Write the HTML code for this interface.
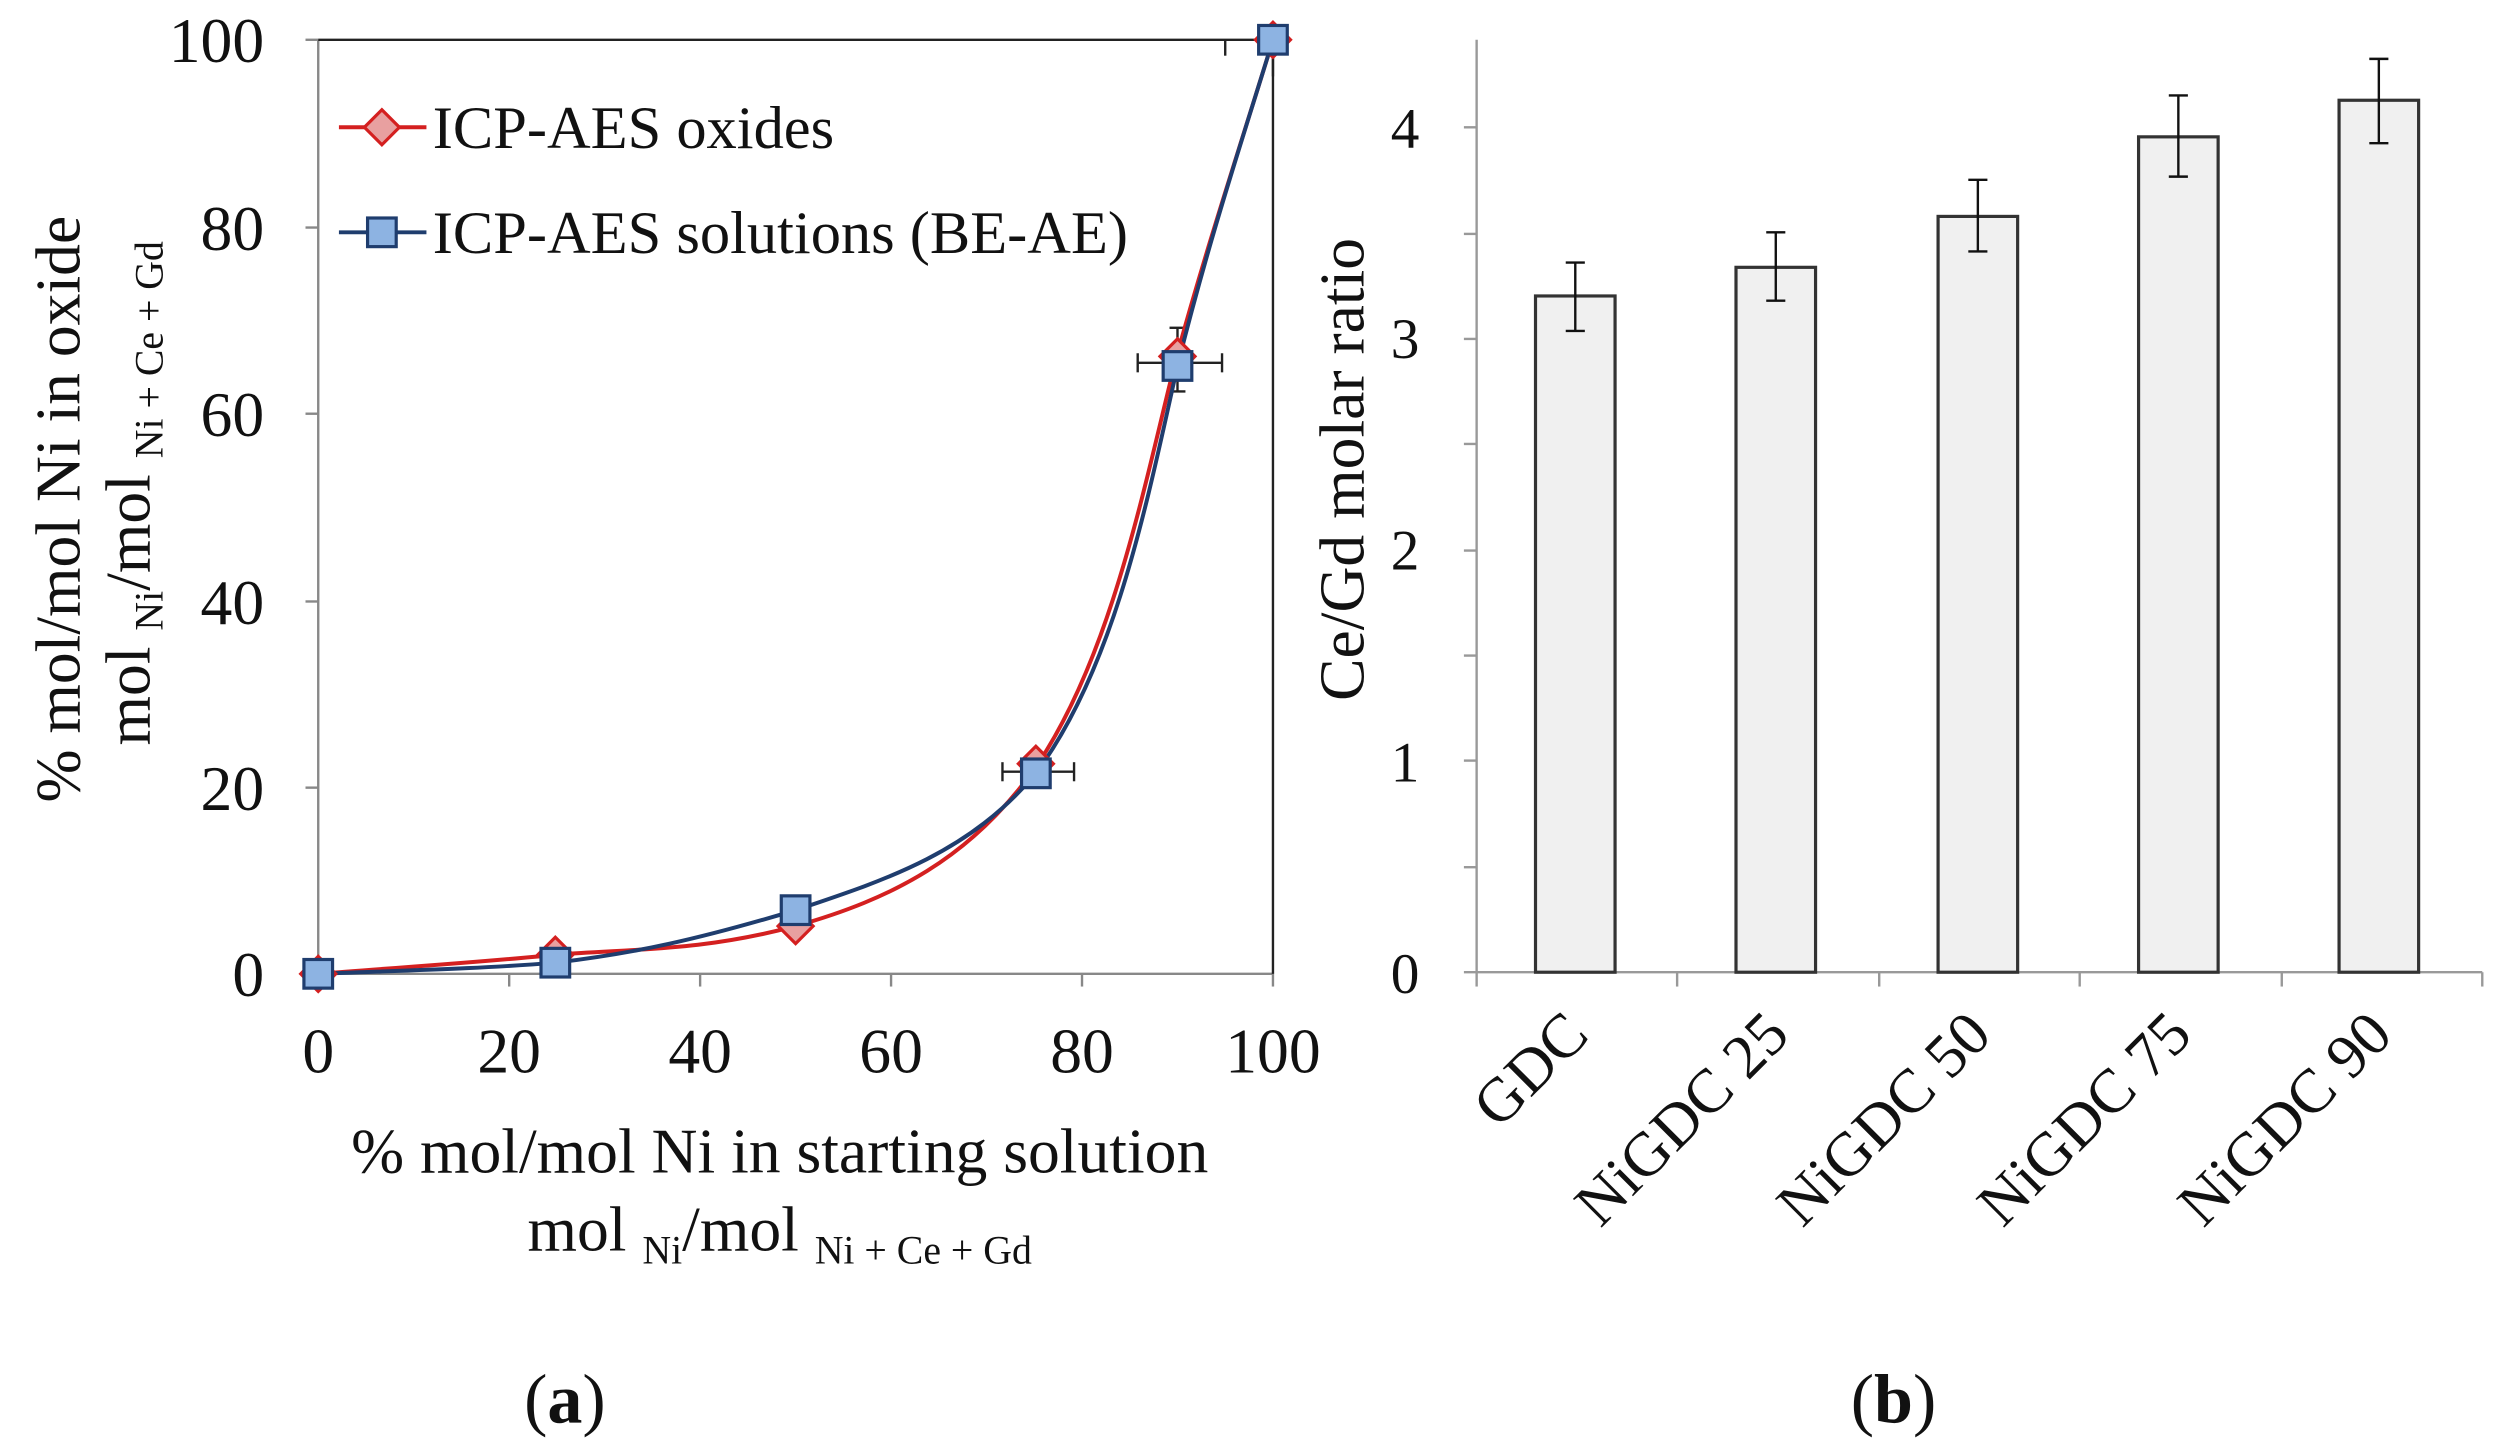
<!DOCTYPE html>
<html><head><meta charset="utf-8"><style>html,body{margin:0;padding:0;background:#fff}svg{display:block}</style></head>
<body>
<svg width="2495" height="1448" viewBox="0 0 1568 910" xmlns="http://www.w3.org/2000/svg" font-family="Liberation Serif, serif">
<rect width="1568" height="910" fill="#fff"/>
<!-- Left chart -->
<g stroke="#888" stroke-width="1.5" fill="none">
<line x1="200" y1="25" x2="200" y2="612"/>
<line x1="200" y1="612" x2="800" y2="612"/>
<line x1="192" y1="25" x2="200" y2="25"/><line x1="192" y1="143" x2="200" y2="143"/><line x1="192" y1="260" x2="200" y2="260"/><line x1="192" y1="378" x2="200" y2="378"/><line x1="192" y1="495" x2="200" y2="495"/><line x1="192" y1="612" x2="200" y2="612"/>
<line x1="320" y1="612" x2="320" y2="620"/><line x1="440" y1="612" x2="440" y2="620"/><line x1="560" y1="612" x2="560" y2="620"/><line x1="680" y1="612" x2="680" y2="620"/><line x1="800" y1="612" x2="800" y2="620"/>
</g>
<line x1="200" y1="25" x2="800" y2="25" stroke="#222" stroke-width="1.5"/>
<line x1="800" y1="25" x2="800" y2="612" stroke="#222" stroke-width="1.5"/>
<g font-size="40" fill="#111" text-anchor="end">
<text x="166" y="39">100</text><text x="166" y="157">80</text><text x="166" y="274">60</text><text x="166" y="392">40</text><text x="166" y="509">20</text><text x="166" y="626">0</text>
</g>
<g font-size="40" fill="#111" text-anchor="middle">
<text x="200" y="674">0</text><text x="320" y="674">20</text><text x="440" y="674">40</text><text x="560" y="674">60</text><text x="680" y="674">80</text><text x="800" y="674">100</text>
</g>
<text x="490" y="737" font-size="40" text-anchor="middle" fill="#111">% mol/mol Ni in starting solution</text>
<text x="490" y="786" font-size="40" text-anchor="middle" fill="#111">mol <tspan font-size="25" dy="8">Ni</tspan><tspan dy="-8">/mol </tspan><tspan font-size="25" dy="8">Ni + Ce + Gd</tspan></text>
<text transform="translate(50,320) rotate(-90)" font-size="40" text-anchor="middle" fill="#111">% mol/mol Ni in oxide</text>
<text transform="translate(94,310) rotate(-90)" font-size="40" text-anchor="middle" fill="#111">mol <tspan font-size="25" dy="8">Ni</tspan><tspan dy="-8">/mol </tspan><tspan font-size="25" dy="8">Ni + Ce + Gd</tspan></text>
<!-- error bars -->
<g stroke="#222" stroke-width="1.5">
<line x1="715" y1="228" x2="768" y2="228"/><line x1="715" y1="222" x2="715" y2="234"/><line x1="768" y1="222" x2="768" y2="234"/>
<line x1="740" y1="206" x2="740" y2="246"/><line x1="735" y1="206" x2="745" y2="206"/><line x1="735" y1="246" x2="745" y2="246"/>
<line x1="630" y1="485" x2="675" y2="485"/><line x1="630" y1="479" x2="630" y2="491"/><line x1="675" y1="479" x2="675" y2="491"/>
<line x1="770" y1="25" x2="770" y2="35"/><line x1="800" y1="25" x2="800" y2="48"/>
</g>
<!-- curves -->
<path d="M200,612 C250,608 300,605 349,600 C400,596 440,598 500,582 C560,565 610,540 651,482 C700,410 720,300 740,222 C760,150 780,90 800,25" stroke="#d42020" stroke-width="2.5" fill="none"/>
<path d="M200,612 C250,610 300,609 349,605 C400,599 440,590 500,572 C560,552 610,535 651,486 C700,420 720,320 740,230 C760,150 780,90 800,25" stroke="#1f3d6e" stroke-width="2.5" fill="none"/>
<g fill="#e8a0a0" stroke="#d42020" stroke-width="2">
<path d="M200,601 l11,11 -11,11 -11,-11z"/><path d="M349,589 l11,11 -11,11 -11,-11z"/><path d="M500,571 l11,11 -11,11 -11,-11z"/><path d="M651,469 l11,11 -11,11 -11,-11z"/><path d="M740,213 l11,11 -11,11 -11,-11z"/><path d="M800,14 l11,11 -11,11 -11,-11z"/>
</g>
<g fill="#8db3e2" stroke="#1f3d6e" stroke-width="2">
<rect x="191" y="603" width="18" height="18"/><rect x="340" y="596" width="18" height="18"/><rect x="491" y="563" width="18" height="18"/><rect x="642" y="477" width="18" height="18"/><rect x="731" y="221" width="18" height="18"/><rect x="791" y="16" width="18" height="18"/>
</g>
<!-- legend -->
<line x1="213" y1="80" x2="268" y2="80" stroke="#d42020" stroke-width="2.5"/>
<path d="M240,69 l11,11 -11,11 -11,-11z" fill="#e8a0a0" stroke="#d42020" stroke-width="2"/>
<text x="272" y="93" font-size="38" fill="#111">ICP-AES oxides</text>
<line x1="213" y1="146" x2="268" y2="146" stroke="#1f3d6e" stroke-width="2.5"/>
<rect x="231" y="137" width="18" height="18" fill="#8db3e2" stroke="#1f3d6e" stroke-width="2"/>
<text x="272" y="159" font-size="38" fill="#111">ICP-AES solutions (BE-AE)</text>
<text x="355" y="894" font-size="44" text-anchor="middle" fill="#111">(<tspan font-weight="bold">a</tspan>)</text>
<!-- Right chart -->
<g stroke="#999" stroke-width="1.5">
<line x1="928" y1="25" x2="928" y2="611"/>
<line x1="920" y1="611" x2="1560" y2="611"/>
<line x1="920" y1="80" x2="928" y2="80"/><line x1="920" y1="147" x2="928" y2="147"/><line x1="920" y1="213" x2="928" y2="213"/><line x1="920" y1="279" x2="928" y2="279"/><line x1="920" y1="346" x2="928" y2="346"/><line x1="920" y1="412" x2="928" y2="412"/><line x1="920" y1="478" x2="928" y2="478"/><line x1="920" y1="545" x2="928" y2="545"/>
<line x1="928" y1="611" x2="928" y2="620"/><line x1="1054" y1="611" x2="1054" y2="620"/><line x1="1181" y1="611" x2="1181" y2="620"/><line x1="1307" y1="611" x2="1307" y2="620"/><line x1="1434" y1="611" x2="1434" y2="620"/><line x1="1560" y1="611" x2="1560" y2="620"/>
</g>
<g font-size="36" fill="#111" text-anchor="end">
<text x="892" y="93">4</text><text x="892" y="225">3</text><text x="892" y="358">2</text><text x="892" y="491">1</text><text x="892" y="624">0</text>
</g>
<text transform="translate(857,295) rotate(-90)" font-size="40" text-anchor="middle" fill="#111">Ce/Gd molar ratio</text>
<g fill="#f0f0f0" stroke="#333" stroke-width="2">
<rect x="965" y="186" width="50" height="425"/>
<rect x="1091" y="168" width="50" height="443"/>
<rect x="1218" y="136" width="50" height="475"/>
<rect x="1344" y="86" width="50" height="525"/>
<rect x="1470" y="63" width="50" height="548"/>
</g>
<g stroke="#111" stroke-width="1.5">
<line x1="990" y1="165" x2="990" y2="208"/><line x1="984" y1="165" x2="996" y2="165"/><line x1="984" y1="208" x2="996" y2="208"/>
<line x1="1116" y1="146" x2="1116" y2="189"/><line x1="1110" y1="146" x2="1122" y2="146"/><line x1="1110" y1="189" x2="1122" y2="189"/>
<line x1="1243" y1="113" x2="1243" y2="158"/><line x1="1237" y1="113" x2="1249" y2="113"/><line x1="1237" y1="158" x2="1249" y2="158"/>
<line x1="1369" y1="60" x2="1369" y2="111"/><line x1="1363" y1="60" x2="1375" y2="60"/><line x1="1363" y1="111" x2="1375" y2="111"/>
<line x1="1495" y1="37" x2="1495" y2="90"/><line x1="1489" y1="37" x2="1501" y2="37"/><line x1="1489" y1="90" x2="1501" y2="90"/>
</g>
<g font-size="39" fill="#111" text-anchor="end">
<text transform="translate(1000,652) rotate(-45)">GDC</text>
<text transform="translate(1126,652) rotate(-45)">NiGDC 25</text>
<text transform="translate(1253,652) rotate(-45)">NiGDC 50</text>
<text transform="translate(1379,652) rotate(-45)">NiGDC 75</text>
<text transform="translate(1505,652) rotate(-45)">NiGDC 90</text>
</g>
<text x="1190" y="894" font-size="44" text-anchor="middle" fill="#111">(<tspan font-weight="bold">b</tspan>)</text>
</svg>
</body></html>
